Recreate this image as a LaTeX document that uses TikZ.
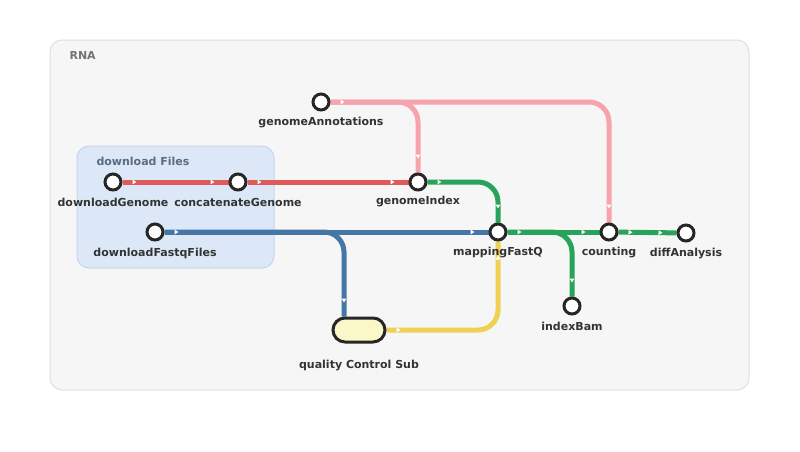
\documentclass[tikz,border=0pt]{standalone}
\usepackage{fontspec}
\setmainfont{DejaVu Sans}
\usetikzlibrary{arrows.meta,decorations.markings,calc}
\pgfdeclarelayer{bg}
\pgfdeclarelayer{edges}
\pgfsetlayers{bg,edges,main}
\definecolor{cred}{HTML}{E05A5A}
\definecolor{cpink}{HTML}{F7A3AB}
\definecolor{cgreen}{HTML}{27A35A}
\definecolor{cblue}{HTML}{4676A6}
\definecolor{cyellow}{HTML}{EFD050}
\definecolor{ctext}{HTML}{333333}
\definecolor{frameFill}{HTML}{F7F6F7}
\definecolor{frameDraw}{HTML}{E6DCE0}
\definecolor{subFill}{HTML}{DCE8F8}
\definecolor{subDraw}{HTML}{C6D6EC}
\definecolor{subText}{HTML}{5C6B80}
\definecolor{qcFill}{HTML}{FAF8C8}
\tikzset{
  station/.style={circle,draw=black!85,line width=3pt,fill=white,minimum size=16pt,inner sep=0pt},
  pill/.style={rounded corners=12pt,draw=black!85,line width=3pt,fill=qcFill,minimum width=52pt,minimum height=24pt,inner sep=0pt},
  lbl/.style={font=\fontsize{11}{13}\selectfont\bfseries,text=ctext},
  track/.style={line width=5pt,rounded corners=20pt,postaction={decorate},
    decoration={markings,
      mark=at position 14pt with {\arrow[white]{Triangle[width=4.5pt,length=4pt]}},
      mark=at position -14pt with {\arrow[white]{Triangle[width=4.5pt,length=4pt]}}}}
}
\begin{document}
\begin{tikzpicture}[x=1pt,y=-1pt]
\useasboundingbox (0,0) rectangle (800,451);
\begin{pgfonlayer}{bg}
\fill[white] (0,0) rectangle (800,451);
\draw[frameDraw,fill=frameFill,line width=1pt,rounded corners=12pt] (50,40) rectangle (749,390);
\draw[subDraw,fill=subFill,line width=1pt,rounded corners=12pt] (77,146) rectangle (274,268);
\end{pgfonlayer}
\node[anchor=west,font=\fontsize{11}{13}\selectfont\bfseries,text=black!55] (rnaT) at (66,55) {RNA};
\node[anchor=west,font=\fontsize{11}{13}\selectfont\bfseries,text=subText] (dlT) at (93,161) {download Files};

\node[station] (dG) at (113,182) {};
\node[station] (cG) at (238,182) {};
\node[station] (gA) at (321,102) {};
\node[station] (gI) at (418,182) {};
\node[station] (dF) at (155,232) {};
\node[station] (mF) at (498,232) {};
\node[station] (ct) at (609,232) {};
\node[station] (dA) at (686,233) {};
\node[station] (iB) at (572,306) {};
\node[pill] (qc) at (359,330) {};

\node[lbl] at (113,202) {downloadGenome};
\node[lbl] at (238,202) {concatenateGenome};
\node[lbl] at (321,123) {genomeAnnotations};
\node[lbl] at (418,202) {genomeIndex};
\node[lbl] at (155,253) {downloadFastqFiles};
\node[lbl] at (498,252) {mappingFastQ};
\node[lbl] at (609,252) {counting};
\node[lbl] at (686,253) {diffAnalysis};
\node[lbl] at (572,326) {indexBam};
\node[lbl] at (359,365) {quality Control Sub};

\begin{pgfonlayer}{edges}
\draw[track,cpink] (gA) -| (ct);
\draw[track,cpink] (gA) -| (gI);
\draw[track,cred] (dG) -- (cG);
\draw[track,cred] (cG) -- (gI);
\draw[track,cgreen] (gI) -| (mF);
\draw[track,cblue] (dF) -- (mF);
\draw[track,cblue] (dF) -| ([xshift=-15pt]qc.north);
\draw[track,cyellow] (qc.east) -| (mF);
\draw[track,cgreen] (mF) -- (ct);
\draw[track,cgreen] (mF) -| (iB);
\draw[track,cgreen] (ct) -- (dA);
\end{pgfonlayer}
\end{tikzpicture}
\end{document}
